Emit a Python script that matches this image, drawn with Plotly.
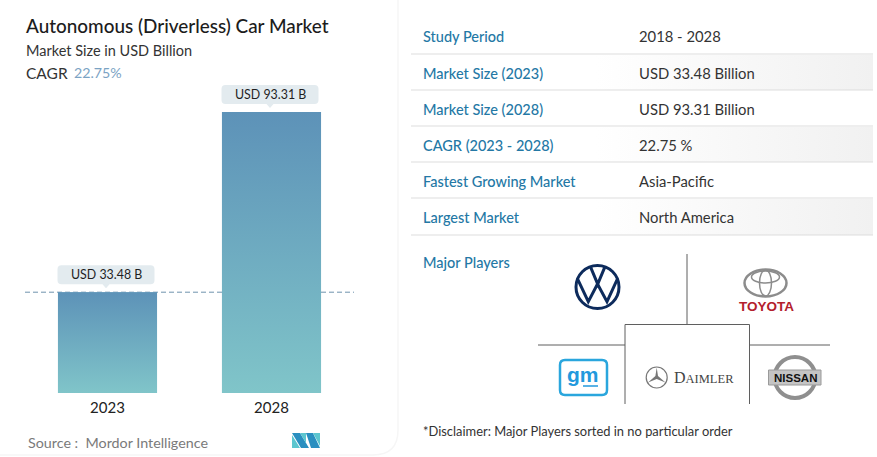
import plotly.graph_objects as go

FONT = "Lato"

years = ["2023", "2028"]
market_size = [33.48, 93.31]
callouts = ["USD 33.48 B", "USD 93.31 B"]

row_labels = ["Study Period", "Market Size (2023)", "Market Size (2028)",
              "CAGR (2023 - 2028)", "Fastest Growing Market", "Largest Market"]
row_values = ["2018 - 2028", "USD 33.48 Billion", "USD 93.31 Billion",
              "22.75 %", "Asia-Pacific", "North America"]
row_text_y = [36, 73, 109, 145, 181, 217]
row_line_y = [54, 90, 126, 162, 198, 235]

BAR_WIDTH = 0.604
LABEL_BLUE = "#2478a5"
NAVY = "#0d2b5c"
GREY_LINE = "#5f5f5f"

fig = go.Figure()


def label(text, x, y, size=14, color="#333333", anchor="left", family=FONT, weight=None):
    # page pixel position, uses the full page axes x2/y2
    fig.add_annotation(
        text=text, x=x - 1 if anchor == "left" else x, y=y - 0.5, xref="x2", yref="y2",
        showarrow=False, xanchor=anchor, yanchor="middle", borderpad=0,
        font=dict(family=family, size=size, color=color, weight=weight),
    )


def line(x0, y0, x1, y1, color=GREY_LINE, width=1):
    fig.add_shape(type="line", x0=x0, y0=y0, x1=x1, y1=y1, xref="x2", yref="y2",
                  line=dict(color=color, width=width))


def ellipse(cx, cy, rx, ry, color, width, fill="rgba(0,0,0,0)"):
    fig.add_shape(type="circle", x0=cx - rx, x1=cx + rx, y0=cy - ry, y1=cy + ry,
                  xref="x2", yref="y2", fillcolor=fill, line=dict(color=color, width=width))


def poly(points, fill=None, color=None, width=0, closed=True):
    path = "M " + " L ".join(f"{x} {y}" for x, y in points) + (" Z" if closed else "")
    fig.add_shape(type="path", path=path, xref="x2", yref="y2",
                  fillcolor=fill if fill else "rgba(0,0,0,0)",
                  line=dict(color=color if color else "rgba(0,0,0,0)", width=width))


# bars, the gradient sits on top of the plain bar
fig.add_trace(go.Bar(x=[0, 1], y=market_size, width=BAR_WIDTH, marker_color="#6fa9bf",
                     marker_line_width=0, showlegend=False, hoverinfo="skip"))
for i, v in enumerate(market_size):
    left, right = i - BAR_WIDTH / 2, i + BAR_WIDTH / 2
    fig.add_trace(go.Scatter(
        x=[left, right, right, left, left], y=[0, 0, v, v, 0],
        mode="lines", line=dict(width=0), fill="toself",
        fillgradient=dict(type="vertical", colorscale=[[0, "#80c5c9"], [1, "#5d92b8"]]),
        showlegend=False, hoverinfo="skip",
    ))

# dashed reference at the 2023 value, behind the bars
fig.add_shape(type="line", xref="x domain", yref="y", x0=0, x1=1,
              y0=market_size[0], y1=market_size[0], layer="below",
              line=dict(color="#6f93ad", width=1, dash="5px,3px"))

# value callouts
for i, v in enumerate(market_size):
    fig.add_shape(
        type="path", xref="x", yref="y", xsizemode="pixel", ysizemode="pixel",
        xanchor=i, yanchor=v, fillcolor="#e3ebef", line_width=0,
        path="M -46 8 L -5 8 L -1.5 4 L 2 8 L 43 8 Q 47 8 47 12 L 47 23 Q 47 27 43 27 "
             "L -46 27 Q -50 27 -50 23 L -50 12 Q -50 8 -46 8 Z",
    )
    fig.add_annotation(text=callouts[i], x=i, y=v, xref="x", yref="y", showarrow=False,
                       xshift=-1.5, yshift=17.5, yanchor="middle", borderpad=0,
                       font=dict(family=FONT, size=12.4, color="#1f1f1f"))

# header and source on the left card
label("Autonomous (Driverless) Car Market", 26, 26, size=18.9, color="#1c1c1c", weight=500)
label("Market Size in USD Billion", 26, 51, size=14.5)
label("CAGR", 26, 73, size=15.5)
label("22.75%", 74, 73, size=14.2, color="#7ba3c4")
label("Source :  Mordor Intelligence", 28, 443, size=14.3, color="#7a7a7a")

# card edge
fig.add_shape(type="path", xref="x2", yref="y2", line=dict(color="#f6f6f6", width=1.5),
              path="M 398 0 L 398 430 Q 398 455 373 455 L 0 455")

# mordor mark
poly([(292, 433), (300, 433), (309, 448), (301, 448)], fill="#2a8fc0")
poly([(292, 435), (292, 448), (300, 448)], fill="#5cc6cf")
poly([(300, 433), (306, 433), (306, 443)], fill="#5cc6cf")
poly([(306, 433), (313, 433), (320, 448), (311, 448)], fill="#2a8fc0")
poly([(313, 433), (320, 433), (320, 446)], fill="#5cc6cf")

# table on the right
for y0, y1 in [(55, 90), (127, 162), (199, 235)]:
    fig.add_trace(go.Scatter(
        x=[411, 873, 873, 411, 411], y=[y0, y0, y1, y1, y0], xaxis="x2", yaxis="y2",
        mode="lines", line=dict(width=0), fill="toself",
        fillgradient=dict(type="horizontal",
                          colorscale=[[0, "#ffffff"], [0.4, "#ffffff"], [1, "#f1f1f1"]]),
        showlegend=False, hoverinfo="skip",
    ))
for name, value, y in zip(row_labels, row_values, row_text_y):
    label(name, 423, y + 1, size=14.5, color=LABEL_BLUE, weight=500)
    label(value, 639, y, size=14.8, color="#333333")
for y in row_line_y:
    line(411, y, 873, y, color="#dddddd", width=1)

label("Major Players", 423, 263, size=14.5, color=LABEL_BLUE, weight=500)
label("*Disclaimer: Major Players sorted in no particular order", 423, 431, size=12.9)

# divider around the logos
line(687, 254, 687, 324)
line(538, 345, 625, 345)
line(749.5, 345, 830, 345)
poly([(625, 404), (625, 324.5), (749.5, 324.5), (749.5, 404)], color=GREY_LINE, width=1, closed=False)

# volkswagen
ellipse(597.5, 287, 21.5, 21.5, NAVY, 3, fill="#ffffff")
poly([(590.7, 267.3), (597.7, 284), (604.7, 267.3)], color=NAVY, width=3, closed=False)
poly([(577.3, 278.3), (588.3, 301.7), (597.5, 284), (607, 301.7), (617.7, 278.3)], color=NAVY, width=3, closed=False)

# toyota
ellipse(765.5, 283, 21, 13.5, "#8c8c8c", 2.5)
ellipse(765.5, 283, 6, 13, "#8c8c8c", 1.5)
ellipse(765.5, 277, 14, 6, "#8c8c8c", 1.5)
label("TOYOTA", 766, 307, size=13.5, color="#b3202c", anchor="center",
      family="Liberation Sans", weight="bold")

# gm
fig.add_shape(type="path", xref="x2", yref="y2", fillcolor="#ffffff",
              line=dict(color="#2aa6dd", width=2.5),
              path="M 565 360 L 602 360 Q 607 360 607 365 L 607 390 Q 607 395 602 395 "
                   "L 565 395 Q 560 395 560 390 L 560 365 Q 560 360 565 360 Z")
label("gm", 583, 375, size=21, color="#2299dd", anchor="center",
      family="Liberation Sans", weight="bold")
line(583, 386, 598, 386, color="#2299dd", width=1.5)

# daimler
ellipse(656.7, 377.5, 10.5, 10.5, "#777777", 1.2)
poly([(656.7, 367.5), (658, 376), (665.5, 382.5), (656.7, 379), (648, 382.5), (655.4, 376)], fill="#777777")
label('D<span style="font-size:12.5px">AIMLER</span>', 704, 378, size=16, color="#444444",
      anchor="center", family="Liberation Serif")

# nissan
ellipse(795, 377.5, 20.5, 20.5, "#8f8f8f", 4, fill="#ffffff")
fig.add_shape(type="rect", x0=768.5, x1=821, y0=370, y1=385, xref="x2", yref="y2",
              fillcolor="#c4c4c4", line=dict(color="#9a9a9a", width=1))
label("NISSAN", 795, 378, size=11.5, color="#111111", anchor="center",
      family="Liberation Sans", weight="bold")

fig.update_layout(
    width=877, height=457, margin=dict(l=0, r=0, t=0, b=0),
    paper_bgcolor="#ffffff", plot_bgcolor="rgba(0,0,0,0)", showlegend=False,
    xaxis=dict(domain=[25 / 877, 354 / 877], range=[-0.503, 1.503], tickvals=[0, 1],
               ticktext=years, showgrid=False, zeroline=False, showline=False, ticks="",
               ticklabelstandoff=4, tickfont=dict(family=FONT, size=15, color="#222222")),
    yaxis=dict(domain=[(457 - 393) / 457, (457 - 85) / 457], range=[0, 102.3],
               visible=False),
    xaxis2=dict(domain=[0, 1], range=[0, 877], visible=False, anchor="y2"),
    yaxis2=dict(domain=[0, 1], range=[457, 0], visible=False, anchor="x2"),
)

# page body has a default margin, drop it so the chart fills the window
fig.write_html("out.html", post_script="document.body.style.margin='0';",
               config={"displayModeBar": False})
